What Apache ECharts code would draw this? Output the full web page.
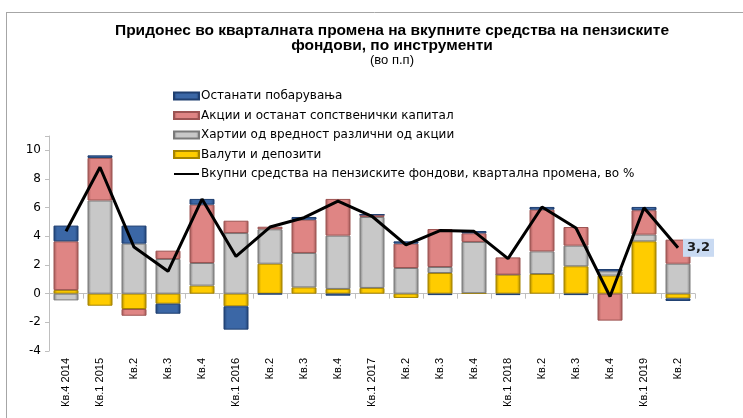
<!DOCTYPE html>
<html>
<head>
<meta charset="utf-8">
<script src="https://cdn.jsdelivr.net/npm/echarts@6/dist/echarts.min.js"></script>
<style>
  html, body { margin: 0; padding: 0; background: #fff; }
  #chart { width: 743px; height: 418px; }
</style>
</head>
<body>
<div id="chart"></div>
<script>
// категории (квартали)
const categories = ['Кв.4 2014', 'Кв.1 2015', 'Кв.2', 'Кв.3', 'Кв.4', 'Кв.1 2016', 'Кв.2', 'Кв.3', 'Кв.4',
  'Кв.1 2017', 'Кв.2', 'Кв.3', 'Кв.4', 'Кв.1 2018', 'Кв.2', 'Кв.3', 'Кв.4', 'Кв.1 2019', 'Кв.2']

// придонеси по инструменти, во п.п.
const valuti = [0.25, -0.84, -1.07, -0.7, 0.56, -0.88, 2.09, 0.44, 0.33, 0.4, -0.3, 1.44, 0.03, 1.33, 1.37, 1.91, 1.26, 3.65, -0.33]
const hartii = [-0.47, 6.5, 3.49, 2.42, 1.58, 4.23, 2.4, 2.4, 3.72, 4.95, 1.79, 0.42, 3.58, 0, 1.58, 1.44, 0.3, 0.47, 2.09]
const akcii = [3.4, 2.97, -0.47, 0.58, 4.07, 0.86, 0.18, 2.32, 2.56, 0.16, 1.7, 2.65, 0.6, 1.2, 2.91, 1.3, -1.88, 1.7, 1.68]
const ostanati = [1.1, 0.18, 1.26, -0.7, 0.4, -1.63, -0.05, 0.19, -0.14, 0, 0.16, -0.1, 0.16, -0.1, 0.19, -0.1, 0.16, 0.23, -0.18]
// вкупни средства, квартална промена во %
const vkupno = [4.35, 8.82, 3.25, 1.56, 6.6, 2.6, 4.65, 5.3, 6.45, 5.4, 3.4, 4.4, 4.35, 2.44, 6.05, 4.58, -0.2, 6.0, 3.2]

const yTicks = { min: -4, max: 11, step: 2 }

const names = {
  ostanati: 'Останати побарувања',
  akcii: 'Акции и останат сопственички капитал',
  hartii: 'Хартии од вредност различни од акции',
  valuti: 'Валути и депозити',
  vkupno: 'Вкупни средства на пензиските фондови, квартална промена, во %'
}

// „3D“ изглед како во Excel
function bevel(base, dark) {
  return new echarts.graphic.LinearGradient(0, 0, 1, 0, [
    { offset: 0, color: dark },
    { offset: 0.14, color: base },
    { offset: 0.86, color: base },
    { offset: 1, color: dark }
  ])
}

function barSeries(name, data, base, dark) {
  return {
    name: name,
    type: 'bar',
    stack: 'total',
    data: data,
    barWidth: 25,
    itemStyle: {
      color: bevel(base, dark),
      borderColor: dark,
      borderWidth: 1
    }
  }
}

const chart = echarts.init(document.getElementById('chart'))
chart.setOption({
  animation: false,
  textStyle: { fontFamily: 'DejaVu Sans' },
  title: {
    text: 'Придонес во кварталната промена на вкупните средства на пензиските\nфондови, по инструменти',
    subtext: '(во п.п)',
    left: 387,
    top: 18,
    textAlign: 'center',
    itemGap: 0,
    textStyle: { fontFamily: 'Liberation Sans', fontWeight: 'bold', fontSize: 15.5, lineHeight: 15, color: '#000' },
    subtextStyle: { fontFamily: 'Liberation Sans', fontSize: 13, color: '#000' }
  },
  legend: {
    orient: 'vertical',
    left: 168,
    top: 84,
    itemWidth: 25,
    itemHeight: 7,
    itemGap: 5.5,
    data: [
      { name: names.ostanati, icon: 'rect' },
      { name: names.akcii, icon: 'rect' },
      { name: names.hartii, icon: 'rect' },
      { name: names.valuti, icon: 'rect' },
      { name: names.vkupno, itemStyle: { opacity: 0 } }
    ],
    textStyle: { fontSize: 12, lineHeight: 14, color: '#000', padding: [0, 0, 0, -3] }
  },
  grid: { left: 49, right: 48, top: 136, bottom: 67 },
  xAxis: [
    {
      type: 'category',
      data: categories,
      axisLine: { onZero: true, lineStyle: { color: '#bfbfbf' } },
      axisTick: { show: true, length: 5, interval: 0, lineStyle: { color: '#bfbfbf' } },
      axisLabel: { show: false }
    },
    {
      type: 'category',
      data: categories,
      position: 'bottom',
      axisLine: { show: false, onZero: false },
      axisTick: { show: false },
      axisLabel: { interval: 0, rotate: 90, margin: 7, fontSize: 11, fontFamily: 'Liberation Sans', color: '#000' }
    }
  ],
  yAxis: {
    type: 'value',
    min: yTicks.min,
    max: yTicks.max,
    interval: yTicks.step,
    splitLine: { show: false },
    axisLine: { show: true, lineStyle: { color: '#bfbfbf' } },
    axisTick: { show: true, length: 4, lineStyle: { color: '#bfbfbf' } },
    axisLabel: {
      fontSize: 12,
      color: '#000',
      margin: 8,
      formatter: v => (v > 10 ? '' : String(v))
    }
  },
  series: [
    barSeries(names.valuti, valuti, '#ffcc00', '#a68400'),
    barSeries(names.hartii, hartii, '#c8c8c8', '#7a7a7a'),
    barSeries(names.akcii, akcii, '#df8584', '#9c5453'),
    barSeries(names.ostanati, ostanati, '#3b67a6', '#1f3f70'),
    {
      name: names.vkupno,
      type: 'line',
      data: vkupno,
      symbol: 'none',
      lineStyle: { color: '#000', width: 3 },
      itemStyle: { color: '#000' },
      endLabel: {
        show: true,
        distance: 5,
        fontWeight: 'bold',
        fontSize: 13,
        color: '#1a1a1a',
        backgroundColor: '#c9daf2',
        padding: [3, 4, 2, 4],
        formatter: p => String(p.value).replace('.', ',')
      }
    }
  ],
  graphic: [
    { type: 'line', shape: { x1: 6, y1: 12.5, x2: 743, y2: 12.5 }, style: { stroke: '#a6a6a6', lineWidth: 1 } },
    { type: 'line', shape: { x1: 6.5, y1: 12, x2: 6.5, y2: 418 }, style: { stroke: '#a6a6a6', lineWidth: 1 } }
  ]
})
</script>
</body>
</html>
